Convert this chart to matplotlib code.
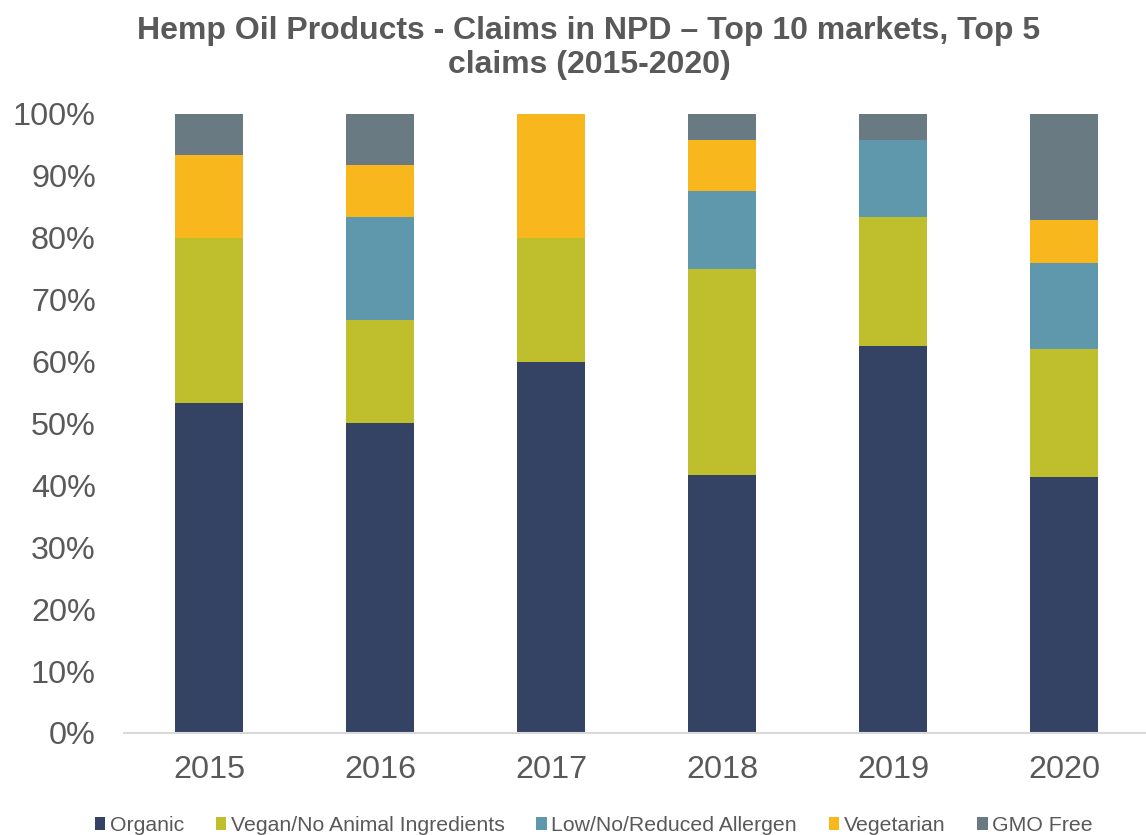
import numpy as np
import matplotlib
matplotlib.use("Agg")
import matplotlib.pyplot as plt
from matplotlib.patches import Patch

plt.rcParams["font.family"] = ["Liberation Sans", "DejaVu Sans"]

years = ["2015", "2016", "2017", "2018", "2019", "2020"]
claims = ["Organic", "Vegan/No Animal Ingredients", "Low/No/Reduced Allergen",
          "Vegetarian", "GMO Free"]
organic = [53.3, 50.0, 60.0, 41.7, 62.5, 41.4]
vegan = [26.7, 16.7, 20.0, 33.3, 20.8, 20.7]
allergen = [0.0, 16.7, 0.0, 12.5, 12.5, 13.8]
vegetarian = [13.3, 8.3, 20.0, 8.3, 0.0, 6.9]
gmo_free = [6.7, 8.3, 0.0, 4.2, 4.2, 17.2]
colors = ["#344263", "#BFBF2E", "#5F97AC", "#F8B71C", "#6A7A82"]

series = [organic, vegan, allergen, vegetarian, gmo_free]

fig = plt.figure(figsize=(11.46, 8.35), dpi=100)
ax = fig.add_axes([0.1078, 0.1222, 0.8953, 0.7413])

x = np.arange(len(years))
bottom = np.zeros(len(years))
for vals, c in zip(series, colors):
    v = np.array(vals) / 100.0
    ax.bar(x, v, width=0.4, bottom=bottom, color=c, edgecolor="none")
    bottom += v

ax.set_xlim(-0.5, len(years) - 0.5)
ax.set_ylim(0, 1)
ax.set_yticks(np.arange(0, 1.01, 0.1))
ax.set_yticklabels([f"{int(round(t * 100))}%" for t in np.arange(0, 1.01, 0.1)])
ax.set_xticks(x)
ax.set_xticklabels(years)
ax.tick_params(axis="both", length=0, labelsize=23.3, colors="#595959")
ax.tick_params(axis="x", pad=16)
ax.tick_params(axis="y", pad=20)
for s in ["top", "right", "left"]:
    ax.spines[s].set_visible(False)
ax.spines["bottom"].set_color("#D9D9D9")
ax.spines["bottom"].set_linewidth(1.5)

fig.suptitle("Hemp Oil Products - Claims in NPD \u2013 Top 10 markets, Top 5\nclaims (2015-2020)",
             x=0.514, y=0.981, fontsize=23, fontweight="bold", color="#595959",
             linespacing=1.2)

handles = [Patch(facecolor=c, edgecolor="none") for c in colors]
fig.legend(handles, claims, loc="lower center", bbox_to_anchor=(0.518, -0.023), ncol=5,
           frameon=False, fontsize=15.3, labelcolor="#595959", handlelength=0.5,
           handleheight=0.5, handletextpad=0.2, columnspacing=1.5)

fig.savefig("out.png", dpi=100)
